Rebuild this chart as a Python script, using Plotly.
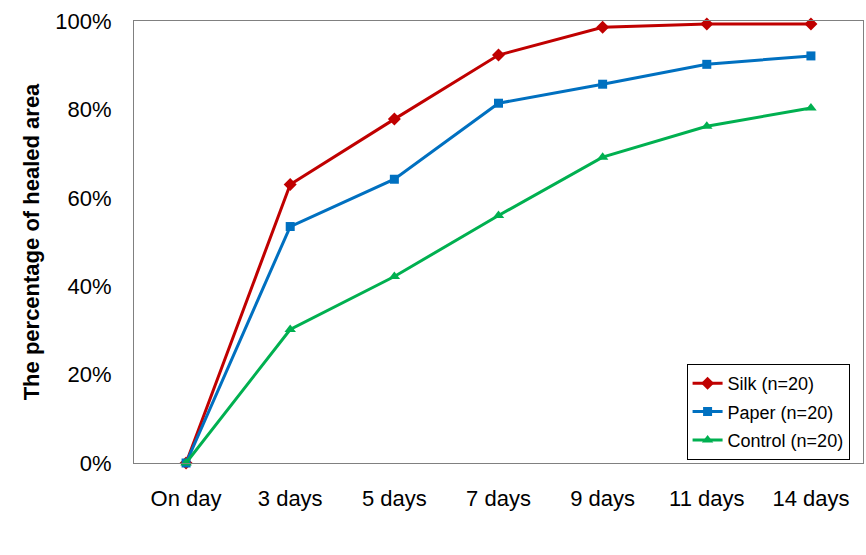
import plotly.graph_objects as go

categories = ["On day", "3 days", "5 days", "7 days", "9 days", "11 days", "14 days"]
silk = [0, 63.0, 77.8, 92.3, 98.6, 99.3, 99.3]
paper = [0, 53.5, 64.2, 81.4, 85.7, 90.2, 92.1]
control = [0, 30.2, 42.2, 56.0, 69.2, 76.2, 80.3]
y_ticks = [0, 20, 40, 60, 80, 100]
y_tick_labels = ["0%", "20%", "40%", "60%", "80%", "100%"]

series = [
    ("Silk (n=20)", silk, "#C00000", "diamond", 10),
    ("Paper (n=20)", paper, "#0070C0", "square", 9),
    ("Control (n=20)", control, "#00B050", "triangle-up", 10),
]

fig = go.Figure()
for name, vals, color, sym, size in series:
    fig.add_trace(go.Scatter(
        x=categories, y=vals, name=name, mode="lines+markers",
        legendgroup=name,
        line=dict(color=color, width=3),
        marker=dict(symbol=sym, size=size, color=color),
        cliponaxis=False,
    ))

fig.update_layout(
    width=866, height=555,
    margin=dict(l=134, r=3, t=21, b=92),
    plot_bgcolor="white", paper_bgcolor="white",
    font=dict(family="Liberation Sans, Arial, sans-serif", color="black"),
    showlegend=True,
    legend=dict(
        x=0.758, y=0.224, xanchor="left", yanchor="top",
        bordercolor="black", borderwidth=1, bgcolor="white",
        font=dict(size=18), tracegroupgap=2, itemwidth=30,
    ),
)
fig.update_xaxes(
    type="category", showgrid=False, showline=True, linecolor="#808080",
    linewidth=1, mirror=True, ticks="", tickfont=dict(size=22),
    range=[-0.5, 6.5], ticklabelstandoff=16,
)
fig.update_yaxes(
    range=[0, 100], tickvals=y_ticks, ticktext=y_tick_labels,
    showgrid=False, showline=True, linecolor="#808080", linewidth=1,
    mirror=True, ticks="", tickfont=dict(size=22), zeroline=False,
    ticklabelstandoff=17,
    title=dict(text="<b>The percentage of healed area</b>", font=dict(size=22), standoff=9),
)

fig.write_html("out.html")
